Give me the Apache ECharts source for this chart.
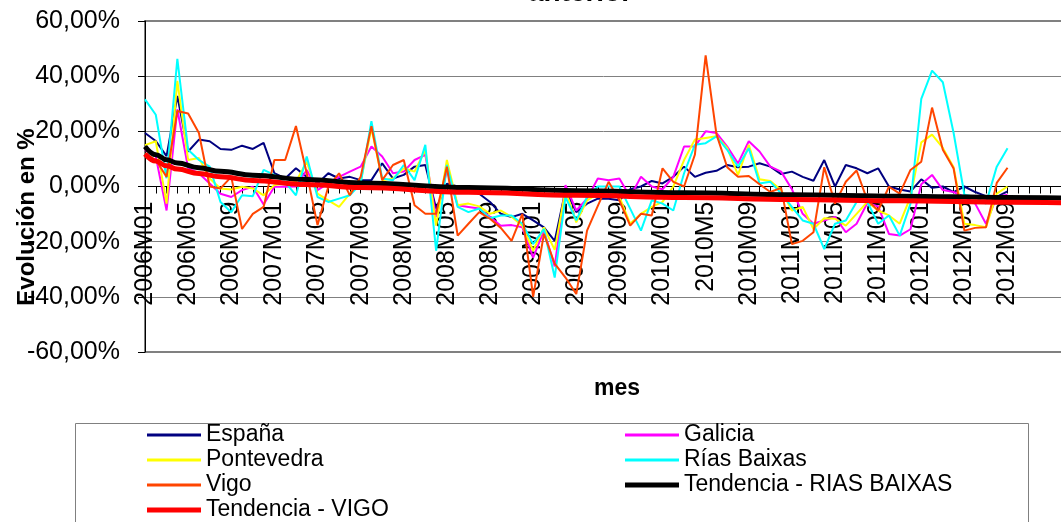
<!DOCTYPE html>
<html>
<head>
<meta charset="utf-8">
<script src="https://cdn.jsdelivr.net/npm/echarts@6/dist/echarts.min.js"></script>
<style>
  html, body { margin: 0; padding: 0; background: #fff; }
  #main { width: 1061px; height: 522px; }
</style>
</head>
<body>
<div id="main"></div>
<script>
// meses 2006M01 .. 2012M09 (81), mas periodos de prevision de las tendencias
var months = [];
for (var y = 2006; y <= 2012; y++) {
    for (var m = 1; m <= 12; m++) {
        months.push(y + 'M' + (m < 10 ? '0' + m : m));
    }
}
months = months.slice(0, 81);
months[52] = '2010M5';   // asi aparece en el original
var forecastPeriods = 7;
var categories = months.concat(new Array(forecastPeriods).fill(''));

var yTicks = [-60, -40, -20, 0, 20, 40, 60];

var espana = [19.4, 16.5, 11, 32.8, 12.7, 17, 16.4, 13.6, 13.3, 14.8,
    13.6, 15.8, 4.8, 2.9, 6.6, 3.5, 1.1, 4.8, 2.9, 3.5,
    2.3, 2.3, 8.4, 2.9, 4.2, 7.2, 7.8, -8, 1, 0,
    -1.5, -2.6, -5.6, -9.9, -11.1, -9.9, -12.3, -14.8, -19.7, -1.3,
    -9.3, -6.2, -4.4, -4.4, -5, -1, 0, 2, 1.1, 3.5,
    7.2, 3.5, 5, 5.7, 7.8, 7, 7.2, 8.4, 7.2, 4.5,
    5.4, 3.5, 2.1, 9.6, 0, 7.8, 6.6, 4.8, 6.6, 0,
    -1.1, -1.8, 2.6, -0.5, 0, -2, 0, -2, -3.5, -3.8,
    -1.8];
var galicia = [13.3, 10.9, -8.7, 28, 6.6, 4.8, 1.1, -2.6, -3.8, -1.3,
    -0.1, -6.5, -0.1, -0.1, 0, 6, -1.3, 1.1, 3.5, 5.4,
    7.2, 14.5, 10.9, 4.8, 5.4, 9.6, 11.5, -11.1, 6, -6.8,
    -7.4, -8, -11, -14.2, -14, -14.8, -25.8, -16, -29, 0.5,
    -8.7, -4.4, 2.9, 2.3, 2.9, -3.8, 3.5, 0, -1, 3.5,
    14.5, 14.5, 20, 19.4, 14.5, 8.4, 16.4, 12.7, 7.2, 5.4,
    -1, -9.9, -13.5, -12.3, -11, -16.6, -13.5, -6, -7.2, -17.2,
    -17.8, -15.5, 0.8, 4.2, -1.3, -2, -3.8, -6.2, -13.5, -3.8,
    -3];
var pontevedra = [15, 16.4, -6.2, 38.3, 9.6, 10.3, 2.9, -0.7, -1.1, -0.1,
    -0.7, -3.2, 0.5, 1.1, 1.7, 9, -2.6, -5, -7.4, -2.6,
    1.7, 21.2, 2.3, 2.9, 6.6, 5.4, 13.3, -14.2, 9.6, -6.8,
    -6.2, -7.2, -9.9, -8.7, -11, -14.2, -23.3, -14.8, -23, -1.3,
    -13, -5, -2.6, -1.3, -3.8, -13.5, -9.9, -7.4, -5.6, 0,
    9.6, 17, 17.6, 18.2, 14, 4.2, 15.1, 2.6, 2, -1.3,
    -8.7, -7.4, -15.4, -11.5, -11.7, -14.2, -9.9, -5.6, -8.7, -10.5,
    -13.5, -3.8, 16, 18.8, 14, 7, -13.5, -14, -14.8, -2.6,
    0];
var riasBaixas = [31.6, 26, 3, 46.3, 13.3, 9.6, 7.2, -5.6, -9.3, -3.2,
    -3.5, 6, 4.2, 1.7, -3.2, 10.9, -3.8, -5.6, -4.4, -3.2,
    1.1, 23.7, 2.9, 2.3, 7.8, 2.3, 15.1, -23.3, 7.8, -7.4,
    -9.3, -8, -11.5, -10.5, -10.5, -13.5, -20.9, -15.4, -33, -3.8,
    -12.3, -3.8, 0, 0, 0, -8, -16, -5, -6.2, -8.7,
    4.8, 15.1, 15.7, 18.2, 13.3, 7.2, 13.9, 1.1, 1.7, -2.5,
    -7.4, -12.3, -13.5, -22.7, -13.5, -12.3, -5.6, -5.6, -13.5, -10.5,
    -17.8, -6.2, 31.8, 42, 37.8, 19.4, -3, -3.8, -6.2, 7.2,
    13.9];
var vigo = [12, 9.6, 3.5, 27.4, 26.5, 19.4, 0, -0.7, 3.5, -15.4,
    -9.9, -7.4, 9.6, 9.6, 21.9, 4.8, -14, -0.1, 4.8, -3.2,
    3.5, 21.9, 2.3, 7.8, 9.6, -6.8, -9.9, -9.9, 7.2, -17.8,
    -13.5, -9.3, -11.7, -15, -19.7, -9.9, -40, -17.2, -28, -33,
    -39, -16, -7, 1.7, -5, -14.2, -9.9, -10.5, 6.6, 1.7,
    0, 11.5, 47.5, 19, 7, 3.5, 3.8, 0.8, -2, -0.5,
    -20.9, -19.7, -16.6, 7, -6.2, 1.7, 5.8, -5, -8.7, -0.1,
    -2.6, 6, 9, 28.6, 13.3, 6.5, -16, -15, -14.8, 1.3,
    6.8];

var trendIdx = [0, 1, 2, 3, 5, 7, 10, 15, 20, 30, 40, 50, 60, 70, 80, 87];
var trendRias = [14.5, 11.5, 9.7, 8.5, 6.8, 5.5, 4.1, 2.5, 1.3, -0.4, -1.5, -2.3, -3, -3.5, -4, -4.3];
var trendVigo = [11.8, 9.2, 7.5, 6.3, 4.7, 3.5, 2.2, 0.7, -0.4, -2.1, -3.2, -4, -4.7, -5.2, -5.7, -6];

function pairs(idx, vals) {
    return idx.map(function (i, k) { return [i, vals[k]]; });
}

var FONT = 'Liberation Sans, Arial, sans-serif';

var chart = echarts.init(document.getElementById('main'));

function lineSeries(name, data, color, width, extra) {
    var s = {
        name: name,
        type: 'line',
        data: data,
        symbol: 'none',
        showSymbol: false,
        lineStyle: { color: color, width: width },
        itemStyle: { color: color },
        emphasis: { disabled: true }
    };
    for (var k in extra) s[k] = extra[k];
    return s;
}

var legendText = { fontSize: 23, color: '#000', fontFamily: FONT, lineHeight: 24 };

function legendBlock(left, top, thick, names) {
    return {
        orient: 'vertical',
        left: left,
        top: top,
        padding: 0,
        icon: 'rect',
        itemWidth: 54,
        itemHeight: thick,
        itemGap: 1,
        textStyle: legendText,
        data: names
    };
}

// plot: 60% en y=21, -60% en y=352 -> eje de categorias en 0%
// el area del grafico sigue mas alla del borde derecho (recortada en el original)
var plotTop = 21, plotBottom = 352;
var zeroOffset = (plotBottom - plotTop) / 2;

var option = {
    backgroundColor: '#ffffff',
    animation: false,
    grid: {
        left: 145,
        top: plotTop,
        width: 938,
        height: plotBottom - plotTop,
        outerBoundsMode: 'none',
        containLabel: false,
        show: true,
        borderColor: '#808080',
        borderWidth: 2,
        backgroundColor: 'transparent'
    },
    legend: [
        legendBlock(147, 423, 3, ['España', 'Pontevedra', 'Vigo']),
        legendBlock(147, 498, 5, ['Tendencia - VIGO']),
        legendBlock(625, 423, 3, ['Galicia', 'Rías Baixas']),
        legendBlock(625, 473, 5, ['Tendencia - RIAS BAIXAS'])
    ],
    xAxis: {
        type: 'category',
        boundaryGap: false,
        data: categories,
        position: 'bottom',
        offset: -zeroOffset,
        axisLine: { show: true, onZero: false, lineStyle: { color: '#000', width: 1 } },
        axisTick: { show: true, interval: 0, length: 7, lineStyle: { color: '#000' } },
        axisLabel: {
            interval: 3,
            rotate: 90,
            margin: 15,
            fontSize: 25,
            color: '#000',
            fontFamily: FONT
        },
        splitLine: { show: false }
    },
    yAxis: {
        type: 'value',
        min: yTicks[0],
        max: yTicks[yTicks.length - 1],
        interval: 20,
        axisLine: { show: true, lineStyle: { color: '#000', width: 1 } },
        axisTick: { show: true, length: 7, lineStyle: { color: '#000' } },
        axisLabel: {
            margin: 25,
            fontSize: 25,
            color: '#000',
            fontFamily: FONT,
            formatter: function (v) { return v.toFixed(2).replace('.', ',') + '%'; }
        },
        splitLine: { show: true, lineStyle: { color: '#808080', width: 1 } }
    },
    graphic: [
        {
            type: 'text', x: 580, y: -7, z: 100,
            style: { text: 'anterior', font: 'bold 28px ' + FONT, fill: '#000', align: 'center', verticalAlign: 'middle' }
        },
        {
            type: 'text', x: 617, y: 389, z: 100,
            style: { text: 'mes', font: 'bold 23px ' + FONT, fill: '#000', align: 'center', verticalAlign: 'middle' }
        },
        {
            type: 'text', x: 27, y: 217, rotation: Math.PI / 2, z: 100,
            style: { text: 'Evolución en %', font: 'bold 24px ' + FONT, fill: '#000', align: 'center', verticalAlign: 'middle' }
        },
        {
            type: 'rect', z: -1,
            shape: { x: 75.5, y: 423.5, width: 953, height: 120 },
            style: { fill: null, stroke: '#808080', lineWidth: 1 }
        }
    ],
    series: [
        lineSeries('España', espana, '#000080', 2),
        lineSeries('Galicia', galicia, '#FF00FF', 2),
        lineSeries('Pontevedra', pontevedra, '#FFFF00', 2),
        lineSeries('Rías Baixas', riasBaixas, '#00FFFF', 2),
        lineSeries('Vigo', vigo, '#FF4500', 2),
        lineSeries('Tendencia - RIAS BAIXAS', pairs(trendIdx, trendRias), '#000000', 5, { smooth: 0.4, smoothMonotone: 'x' }),
        lineSeries('Tendencia - VIGO', pairs(trendIdx, trendVigo), '#FF0000', 5, { smooth: 0.4, smoothMonotone: 'x' })
    ]
};

chart.setOption(option);
</script>
</body>
</html>
